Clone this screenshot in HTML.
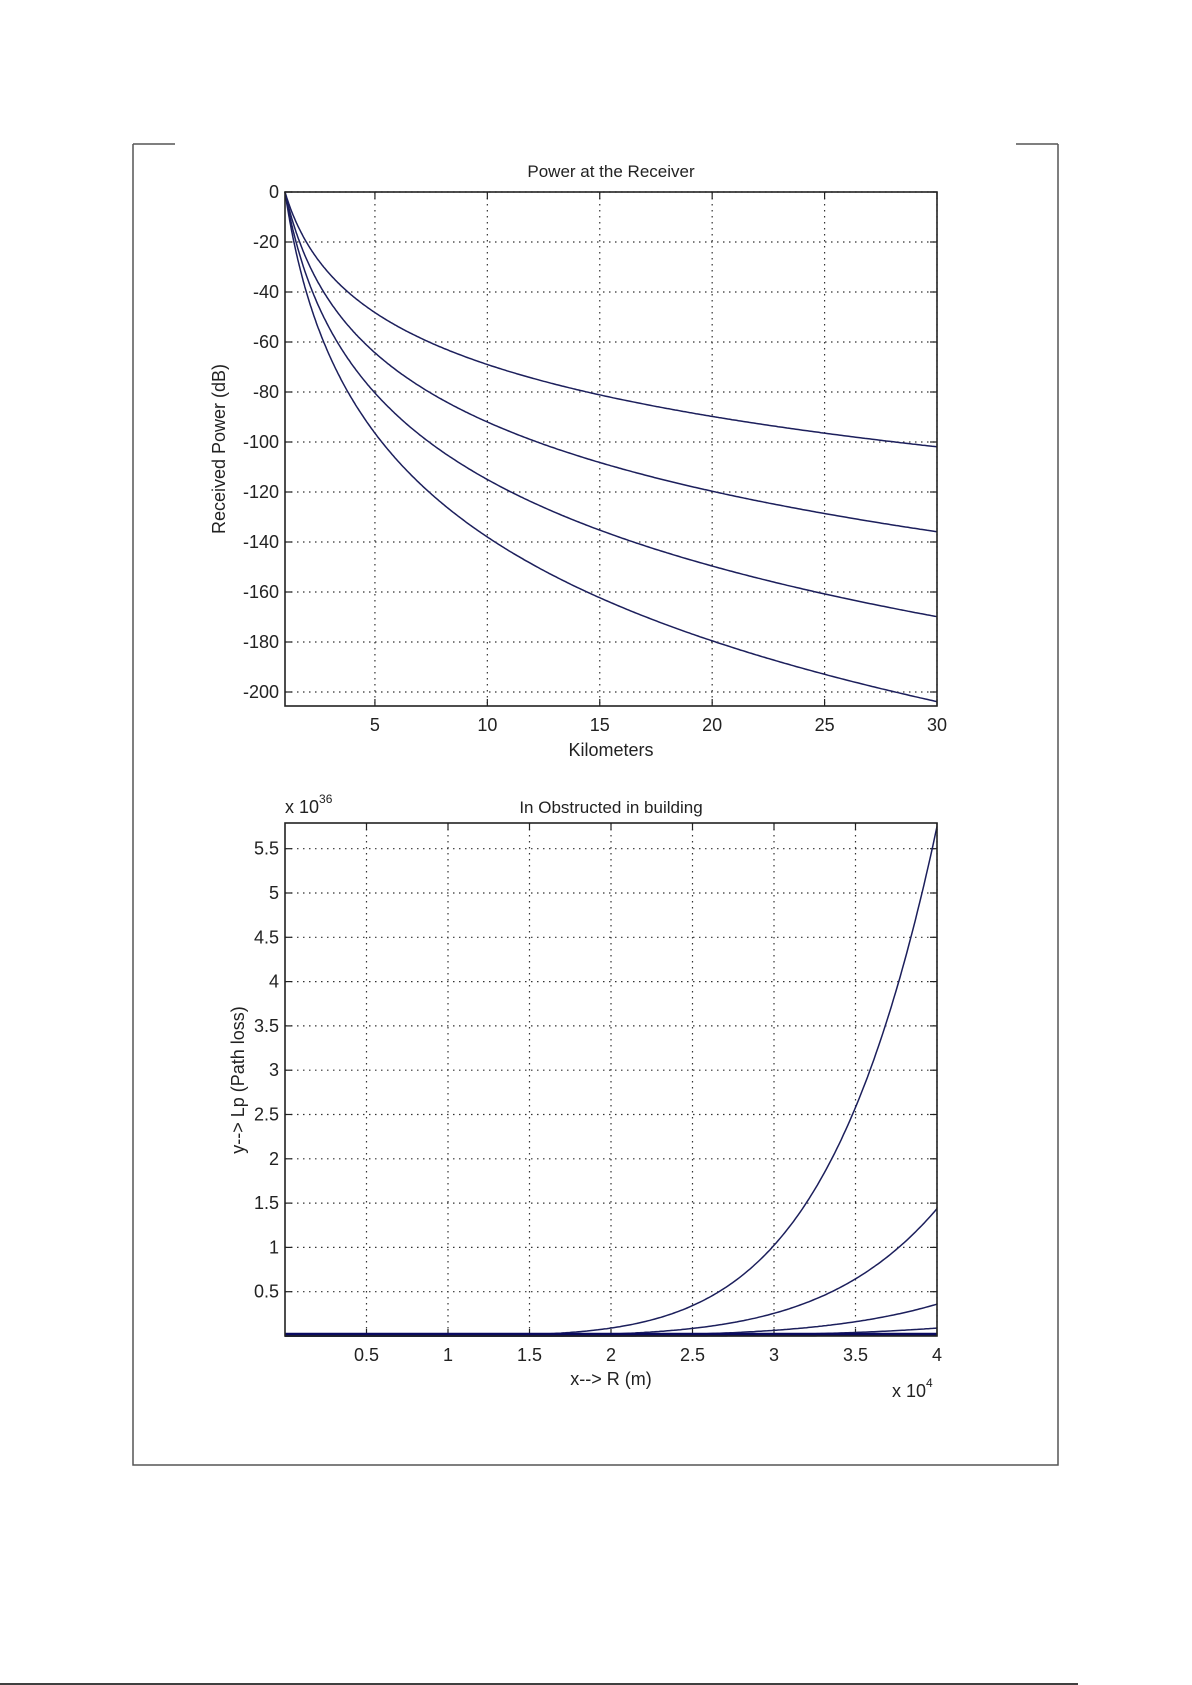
<!DOCTYPE html>
<html><head><meta charset="utf-8"><style>
html,body{margin:0;padding:0;background:#fff;}
svg{display:block;font-family:"Liberation Sans",Arial,sans-serif;}
</style></head><body>
<svg id="s" width="1192" height="1685" viewBox="0 0 1192 1685" xmlns="http://www.w3.org/2000/svg">
<rect width="1192" height="1685" fill="#fff"/>
<path d="M133 144 H175 M133 144 V1465 H1058 V144 M1016 144 H1058" stroke="#555" stroke-width="1.5" fill="none"/>
<line x1="0" y1="1684" x2="1078" y2="1684" stroke="#000" stroke-width="1.5"/>
<g id="g1"></g>
<g id="g2"></g>
</svg>
<script>
var NS="http://www.w3.org/2000/svg";
function el(p,t,a,txt){var e=document.createElementNS(NS,t);for(var k in a)e.setAttribute(k,a[k]);if(txt!==undefined)e.textContent=txt;p.appendChild(e);return e;}
var FS=18, C="#222";
function axes(g,L,T,R,B,x0,x1,y0,y1,xt,yt){
  var X=function(v){return L+(v-x0)/(x1-x0)*(R-L);}, Y=function(v){return B-(v-y0)/(y1-y0)*(B-T);};
  xt.forEach(function(t){var x=X(t.v);
    el(g,'line',{x1:x,y1:T,x2:x,y2:B,stroke:'#333','stroke-width':1.2,'stroke-dasharray':'1.5 4.5'});
    el(g,'line',{x1:x,y1:B,x2:x,y2:B-7,stroke:'#222','stroke-width':1.2});
    el(g,'line',{x1:x,y1:T,x2:x,y2:T+7,stroke:'#222','stroke-width':1.2});
    el(g,'text',{x:x,y:B+25,'text-anchor':'middle','font-size':FS,fill:C},t.l);});
  yt.forEach(function(t){var y=Y(t.v);
    el(g,'line',{x1:L,y1:y,x2:R,y2:y,stroke:'#333','stroke-width':1.2,'stroke-dasharray':'1.5 4.5'});
    el(g,'line',{x1:L,y1:y,x2:L+7,y2:y,stroke:'#222','stroke-width':1.2});
    el(g,'line',{x1:R,y1:y,x2:R-7,y2:y,stroke:'#222','stroke-width':1.2});
    el(g,'text',{x:L-6,y:y+6,'text-anchor':'end','font-size':FS,fill:C},t.l);});
  return {X:X,Y:Y};
}
function box(g,L,T,R,B){el(g,'rect',{x:L,y:T,width:R-L,height:B-T,fill:'none',stroke:'#222','stroke-width':1.6});}
var g1=document.getElementById('g1');
var L=285,T=192,R=937,B=706;
var xt=[5,10,15,20,25,30].map(function(v){return {v:v,l:''+v};});
var yt=[];for(var v=0;v>=-200;v-=20)yt.push({v:v,l:''+v});
var a=axes(g1,L,T,R,B,1,30,-205.6,0,xt,yt);
[69,92,115,138].forEach(function(k){var d='';for(var i=0;i<=400;i++){var x=1+29*Math.pow(i/400,1.5);var y=-k*Math.log10(x);d+=(i?'L':'M')+a.X(x).toFixed(1)+' '+a.Y(y).toFixed(1);}
 el(g1,'path',{d:d,fill:'none',stroke:'#1c1f5c','stroke-width':1.5});});
box(g1,L,T,R,B);
el(g1,'text',{x:611,y:177,'text-anchor':'middle','font-size':17,fill:C},'Power at the Receiver');
el(g1,'text',{x:611,y:756,'text-anchor':'middle','font-size':FS,fill:C},'Kilometers');
el(g1,'text',{x:0,y:0,'text-anchor':'middle','font-size':FS,fill:C,transform:'translate(225,449) rotate(-90)'},'Received Power (dB)');
var g2=document.getElementById('g2');
L=285;T=823;R=937;B=1336;
xt=[0.5,1,1.5,2,2.5,3,3.5,4].map(function(v){return {v:v,l:''+v};});
yt=[];for(var i=1;i<=11;i++)yt.push({v:i*0.5,l:''+(i*0.5)});
var b=axes(g2,L,T,R,B,0,4,0,5.79,xt,yt);
[1,0.25,0.0625,0.0156,0.004,0.001].forEach(function(s){var d='';for(var i=0;i<=300;i++){var x=4*i/300;var y=5.75*s*Math.pow(x/4,6);d+=(i?'L':'M')+b.X(x).toFixed(1)+' '+b.Y(y).toFixed(1);}
 el(g2,'path',{d:d,fill:'none',stroke:'#1c1f5c','stroke-width':1.5});});
el(g2,'line',{x1:L,y1:B-1.5,x2:R,y2:B-1.5,stroke:'#0a0a60','stroke-width':3.5});
box(g2,L,T,R,B);
el(g2,'text',{x:611,y:813,'text-anchor':'middle','font-size':17,fill:C},'In Obstructed in building');
el(g2,'text',{x:611,y:1385,'text-anchor':'middle','font-size':FS,fill:C},'x--> R (m)');
var t=el(g2,'text',{x:285,y:813,'font-size':FS,fill:C},'x 10');el(t,'tspan',{dy:-10,'font-size':12},'36');
t=el(g2,'text',{x:892,y:1397,'font-size':FS,fill:C},'x 10');el(t,'tspan',{dy:-10,'font-size':12},'4');
el(g2,'text',{x:0,y:0,'text-anchor':'middle','font-size':FS,fill:C,transform:'translate(244,1080) rotate(-90)'},'y--> Lp (Path loss)');
</script>
</body></html>
